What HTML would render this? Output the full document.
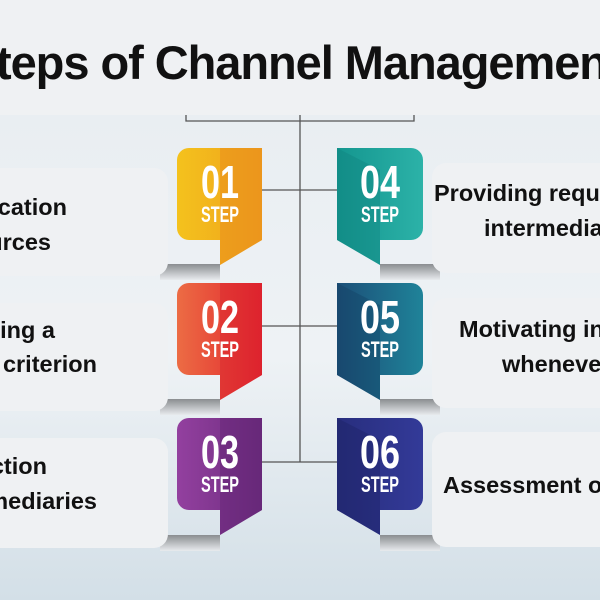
<!DOCTYPE html>
<html><head><meta charset="utf-8"><style>
html,body{margin:0;padding:0;width:600px;height:600px;overflow:hidden;background:#eff1f3}
svg{display:block}
text{font-family:"Liberation Sans",sans-serif;font-weight:bold}
</style></head><body>
<svg width="600" height="600" viewBox="0 0 600 600">
<defs>
<linearGradient id="bg" x1="0" y1="0" x2="0" y2="1">
<stop offset="0" stop-color="#e9eef2"/><stop offset="0.5" stop-color="#eef2f5"/><stop offset="1" stop-color="#d3dfe7"/></linearGradient>
<linearGradient id="sh" x1="0" y1="0" x2="0" y2="1"><stop offset="0" stop-color="#8a8d90"/><stop offset="1" stop-color="#e8ebee"/></linearGradient>
<linearGradient id="g1" x1="0" x2="1"><stop offset="0" stop-color="#f4c21d"/><stop offset="1" stop-color="#f0a21c"/></linearGradient>
<linearGradient id="g2" x1="0" x2="1"><stop offset="0" stop-color="#ec6c44"/><stop offset="1" stop-color="#e2262e"/></linearGradient>
<linearGradient id="g3" x1="0" x2="1"><stop offset="0" stop-color="#93409f"/><stop offset="1" stop-color="#6d2c7f"/></linearGradient>
<linearGradient id="g4" x1="0" x2="1"><stop offset="0" stop-color="#14968f"/><stop offset="1" stop-color="#2cb2a8"/></linearGradient>
<linearGradient id="g5" x1="0" x2="1"><stop offset="0" stop-color="#1c4f78"/><stop offset="1" stop-color="#1f8399"/></linearGradient>
<linearGradient id="g6" x1="0" x2="1"><stop offset="0" stop-color="#282e7e"/><stop offset="1" stop-color="#333a98"/></linearGradient>
</defs>
<rect x="0" y="115" width="600" height="485" fill="url(#bg)"/>
<text x="-4" y="79" font-size="47" fill="#111" textLength="612" lengthAdjust="spacing">teps of Channel Managemen</text>
<g stroke="#555" stroke-width="1.3" fill="none">
<path d="M186 115 V121 H414 V115"/>
<path d="M300 115 V462"/>
<path d="M262 190 H337 M262 326 H337 M262 462 H337"/>
</g>
<g>
<rect x="160" y="264" width="60" height="16" fill="url(#sh)"/>
<rect x="-20" y="168" width="188" height="108" rx="14" fill="#eff1f3"/>
<rect x="160" y="399" width="60" height="16" fill="url(#sh)"/>
<rect x="-20" y="303" width="188" height="108" rx="14" fill="#eff1f3"/>
<rect x="160" y="535" width="60" height="16" fill="url(#sh)"/>
<rect x="-20" y="438" width="188" height="110" rx="14" fill="#eff1f3"/>
<rect x="380" y="264" width="60" height="16" fill="url(#sh)"/>
<rect x="432" y="163" width="190" height="110" rx="14" fill="#eff1f3"/>
<rect x="380" y="399" width="60" height="16" fill="url(#sh)"/>
<rect x="432" y="298" width="190" height="110" rx="14" fill="#eff1f3"/>
<rect x="380" y="535" width="60" height="16" fill="url(#sh)"/>
<rect x="432" y="432" width="190" height="115" rx="14" fill="#eff1f3"/>
</g>
<g fill="#111" font-size="23.5">
<text x="67" y="215" text-anchor="end">Allocation</text>
<text x="51" y="250" text-anchor="end">of resources</text>
<text x="55" y="338" text-anchor="end">Fixing a</text>
<text x="97" y="372" text-anchor="end">selection criterion</text>
<text x="47" y="474" text-anchor="end">Selection</text>
<text x="97" y="509" text-anchor="end">of intermediaries</text>
<text x="434" y="201">Providing required</text>
<text x="484" y="236">intermediaries</text>
<text x="459" y="337">Motivating intermediaries</text>
<text x="502" y="372">whenever needed</text>
<text x="443" y="493">Assessment of performance</text>
</g>
<g>
<path d="M189 148 H262 V240 L220 265 V240 H189 A12 12 0 0 1 177 228 V160 A12 12 0 0 1 189 148Z" fill="url(#g1)"/>
<path d="M220 148 H262 V240 L220 265Z" fill="#e88a1c" opacity="0.5"/>
<path d="M189 283 H262 V375 L220 400 V375 H189 A12 12 0 0 1 177 363 V295 A12 12 0 0 1 189 283Z" fill="url(#g2)"/>
<path d="M220 283 H262 V375 L220 400Z" fill="#d81e2c" opacity="0.4"/>
<path d="M189 418 H262 V510 L220 535 V510 H189 A12 12 0 0 1 177 498 V430 A12 12 0 0 1 189 418Z" fill="url(#g3)"/>
<path d="M220 418 H262 V510 L220 535Z" fill="#5e2270" opacity="0.4"/>
<path d="M337 148 H411 A12 12 0 0 1 423 160 V228 A12 12 0 0 1 411 240 H380 V265 L337 240Z" fill="url(#g4)"/>
<path d="M337 148 L380 170 V265 L337 240Z" fill="#0e7f7a" opacity="0.35"/>
<path d="M337 283 H411 A12 12 0 0 1 423 295 V363 A12 12 0 0 1 411 375 H380 V400 L337 375Z" fill="url(#g5)"/>
<path d="M337 283 L380 305 V400 L337 375Z" fill="#123c5e" opacity="0.35"/>
<path d="M337 418 H411 A12 12 0 0 1 423 430 V498 A12 12 0 0 1 411 510 H380 V535 L337 510Z" fill="url(#g6)"/>
<path d="M337 418 L380 440 V535 L337 510Z" fill="#1b1f5e" opacity="0.35"/>
</g>
<g fill="#fff" text-anchor="middle">
<text x="220" y="198" font-size="46" textLength="38" lengthAdjust="spacingAndGlyphs">01</text>
<text x="220" y="222" font-size="22" textLength="38" lengthAdjust="spacingAndGlyphs">STEP</text>
<text x="220" y="333" font-size="46" textLength="38" lengthAdjust="spacingAndGlyphs">02</text>
<text x="220" y="357" font-size="22" textLength="38" lengthAdjust="spacingAndGlyphs">STEP</text>
<text x="220" y="468" font-size="46" textLength="38" lengthAdjust="spacingAndGlyphs">03</text>
<text x="220" y="492" font-size="22" textLength="38" lengthAdjust="spacingAndGlyphs">STEP</text>
<text x="380" y="198" font-size="46" textLength="40" lengthAdjust="spacingAndGlyphs">04</text>
<text x="380" y="222" font-size="22" textLength="38" lengthAdjust="spacingAndGlyphs">STEP</text>
<text x="380" y="333" font-size="46" textLength="40" lengthAdjust="spacingAndGlyphs">05</text>
<text x="380" y="357" font-size="22" textLength="38" lengthAdjust="spacingAndGlyphs">STEP</text>
<text x="380" y="468" font-size="46" textLength="40" lengthAdjust="spacingAndGlyphs">06</text>
<text x="380" y="492" font-size="22" textLength="38" lengthAdjust="spacingAndGlyphs">STEP</text>
</g>
</svg>
</body></html>
